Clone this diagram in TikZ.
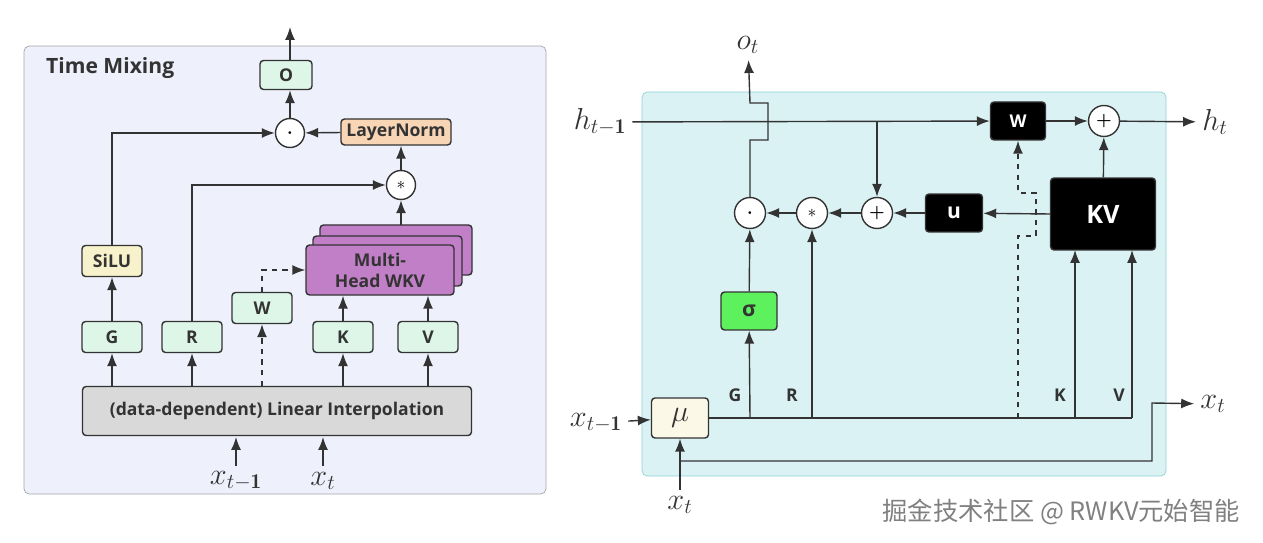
\documentclass[tikz,border=0pt]{standalone}
\usepackage{amsmath}
\usepackage{fontspec}
\setsansfont{Open Sans}[BoldFont={* Bold}]
\newfontfamily\cjk{Noto Sans CJK SC}
\usetikzlibrary{arrows.meta, positioning}
\definecolor{panelL}{HTML}{EEF0FB}
\definecolor{panelR}{HTML}{DAF2F3}
\definecolor{edgeR}{HTML}{8FD3D8}
\definecolor{mint}{HTML}{DDF6E8}
\definecolor{cream}{HTML}{F8F2CC}
\definecolor{peach}{HTML}{F8D5B5}
\definecolor{wkv}{HTML}{C07FC6}
\definecolor{lin}{HTML}{D9D9D9}
\definecolor{sig}{HTML}{5EF15E}
\definecolor{mu}{HTML}{FCF8E8}
\definecolor{ink}{HTML}{333333}
\tikzset{
  box/.style = {draw=ink, thick, rounded corners=2pt, font=\sffamily\bfseries,
    text=ink, inner sep=0pt, minimum width=1.2cm, minimum height=0.62cm},
  blk/.style = {box, fill=black, text=white},
  op/.style = {draw=ink, thick, circle, fill=white, inner sep=0pt, minimum size=0.58cm},
  arr/.style = {draw=ink, thick, -{Latex[length=2.6mm, width=2mm]}},
  lbl/.style = {font=\LARGE, text=ink},
  tag/.style = {font=\sffamily\bfseries, text=ink}
}

\begin{document}
\begin{tikzpicture}[x=0.02cm, y=-0.02cm]
  \useasboundingbox (0,0) rectangle (1263,543);

  % Left panel: Time Mixing
  \draw[gray!70, fill=panelL, rounded corners=3pt] (24,46) rectangle (546,494);
  \node[anchor=west, font=\sffamily\bfseries\large, text=ink] (title) at (40,68) {Time Mixing};

  \node[box, fill=lin, minimum width=7.78cm, minimum height=0.98cm] (lin) at (277,411) {(data-dependent) Linear Interpolation};
  \node[box, fill=mint] (g) at (112,337) {G};
  \node[box, fill=mint] (r) at (192,337) {R};
  \node[box, fill=mint] (w) at (262,308) {W};
  \node[box, fill=mint] (k) at (343,337) {K};
  \node[box, fill=mint] (v) at (428,337) {V};
  \node[box, fill=cream] (silu) at (112,261) {SiLU};
  \draw[ink, thick, fill=wkv, rounded corners=2pt] (320,225) rectangle (472,275);
  \draw[ink, thick, fill=wkv, rounded corners=2pt] (313,236) rectangle (462,286);
  \node[box, fill=wkv, minimum width=2.96cm, minimum height=1cm, align=center] (mh) at (380,270) {Multi-\\Head WKV};
  \node[op] (star) at (401,185) {$*$};
  \node[box, fill=peach, minimum width=2.2cm, minimum height=0.52cm] (ln) at (396,132) {LayerNorm};
  \node[op] (dot) at (290,133) {$\boldsymbol{\cdot}$};
  \node[box, fill=mint, minimum width=1.04cm, minimum height=0.58cm] (o) at (286,75) {O};
  \coordinate (out) at (290,27);

  \node[lbl] (xprev) at (236,481) {$x_{t-\mathbf{1}}$};
  \node[lbl] (xcur) at (323,481) {$x_t$};
  \draw[arr] (236,466) -- (236,437);
  \draw[arr] (323,466) -- (323,437);

  \draw[arr] (lin.north -| g) -- (g);
  \draw[arr] (lin.north -| r) -- (r);
  \draw[arr, dashed] (lin.north -| w) -- (w);
  \draw[arr] (lin.north -| k) -- (k);
  \draw[arr] (lin.north -| v) -- (v);
  \draw[arr] (g) -- (silu);
  \draw[arr] (silu) |- (dot);
  \draw[arr] (r) |- (star);
  \draw[arr, dashed] (w) |- (mh.west);
  \draw[arr] (k) -- (k |- mh.south);
  \draw[arr] (v) -- (v |- mh.south);
  \draw[arr] (401,225) -- (star);
  \draw[arr] (star) -- (ln.south -| star);
  \draw[arr] (ln) -- (dot);
  \draw[arr] (dot) -- (o.south -| dot);
  \draw[arr] (o.north -| dot) -- (out);

  % Right panel: recurrent view
  \draw[edgeR, fill=panelR, rounded corners=3pt] (642,92) rectangle (1166,476);

  \node[blk, minimum width=1.1cm, minimum height=0.76cm] (wr) at (1018,121) {W};
  \node[op, minimum size=0.62cm] (addh) at (1104,121) {\textbf{+}};
  \node[blk, minimum width=2.1cm, minimum height=1.44cm, font=\sffamily\bfseries\Large] (kv) at (1103,214) {KV};
  \node[blk, minimum width=1.14cm, minimum height=0.76cm, font=\sffamily\bfseries\large] (u) at (954,213) {u};
  \node[op, minimum size=0.62cm] (addu) at (877,213) {\textbf{+}};
  \node[op, minimum size=0.62cm] (mul) at (812,213) {$*$};
  \node[op, minimum size=0.62cm] (gate) at (750,213) {$\boldsymbol{\cdot}$};
  \node[box, fill=sig, minimum width=1.12cm, minimum height=0.76cm, font=\sffamily\bfseries\large] (sig) at (749,311) {σ};
  \node[box, fill=mu, minimum width=1.14cm, minimum height=0.8cm, font=\LARGE] (mu) at (680,418) {$\mu$};

  \node[lbl] (hprev) at (600,122) {$h_{t-\mathbf{1}}$};
  \node[lbl] (hnext) at (1215,122) {$h_t$};
  \node[lbl] (ot) at (748,45) {$o_t$};
  \node[lbl] (xpr) at (596,423) {$x_{t-\mathbf{1}}$};
  \node[lbl] (xin) at (680,505) {$x_t$};
  \node[lbl] (xout) at (1213,404) {$x_t$};
  \node[tag] (tg) at (735,395) {G};
  \node[tag] (tr) at (792,395) {R};
  \node[tag] (tk) at (1060,395) {K};
  \node[tag] (tv) at (1119,395) {V};

  \coordinate (bus) at (1132,418);
  \draw[arr] (hprev) -- (wr);
  \draw[arr] (877,122) -- (addu);
  \draw[arr] (wr) -- (addh);
  \draw[arr] (addh) -- (hnext);
  \draw[arr] (kv) -- (addh);
  \draw[arr] (kv.west) -- (u);
  \draw[arr] (u) -- (addu);
  \draw[arr] (addu) -- (mul);
  \draw[arr] (mul) -- (gate);
  \draw[arr] (gate) -- (750,140) -- (768,140) -- (768,103) -- (750,103) -- (ot);
  \draw[arr] (xpr) -- (mu);
  \draw[thick, ink] (mu) -- (bus);
  \draw[arr] (750,418) -- (sig);
  \draw[arr] (sig) -- (gate);
  \draw[arr] (812,418) -- (mul);
  \draw[arr] (1075,418) -- (1075,250);
  \draw[arr] (bus) -- (1132,250);
  \draw[arr, dashed] (1018,418) -- (1018,236) -- (1036,236) -- (1036,193) -- (1018,193) -- (wr);
  \draw[arr] (xin) -- (mu);
  \draw[arr] (680,461) -- (1152,461) -- (1152,403) -- (xout);

  \node[font=\cjk\Large, text=gray, anchor=east] (mark) at (1246,512) {掘金技术社区 @ RWKV元始智能};
\end{tikzpicture}
\end{document}
